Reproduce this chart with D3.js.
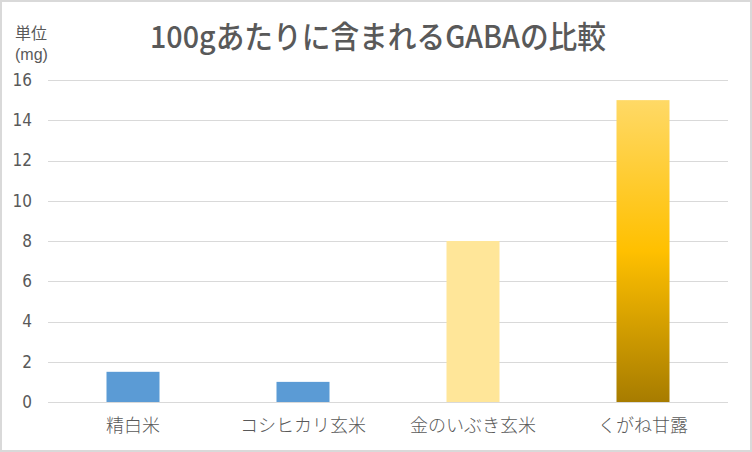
<!DOCTYPE html>
<html><head><meta charset="utf-8">
<script src="https://cdn.jsdelivr.net/npm/d3@7"></script>
<style>
html,body{margin:0;padding:0;background:#fff;}
svg{display:block;}
text{font-family:"Noto Sans CJK JP","Noto Sans",sans-serif;}
</style></head>
<body>
<script>
const categories = ["精白米", "コシヒカリ玄米", "金のいぶき玄米", "くがね甘露"];
const values = [1.5, 1.0, 8, 15];
const yTicks = [0, 2, 4, 6, 8, 10, 12, 14, 16];
const title = "100gあたりに含まれるGABAの比較";
const unitLines = ["単位", "(mg)"];

const W = 752, H = 452;
const svg = d3.select("body").append("svg").attr("width", W).attr("height", H);

// border
svg.append("rect").attr("x", 1).attr("y", 1).attr("width", W - 2).attr("height", H - 2)
  .attr("fill", "#fff").attr("stroke", "#d9d9d9").attr("stroke-width", 2);

const defs = svg.append("defs");
const grad = defs.append("linearGradient").attr("id", "gold")
  .attr("x1", 0).attr("y1", 0).attr("x2", 0).attr("y2", 1);
grad.append("stop").attr("offset", "0%").attr("stop-color", "#FFD966");
grad.append("stop").attr("offset", "50%").attr("stop-color", "#FFC000");
grad.append("stop").attr("offset", "100%").attr("stop-color", "#A77C00");

const colors = ["#5B9BD5", "#5B9BD5", "#FFE699", "url(#gold)"];

const x = d3.scaleBand().domain(categories).range([48, 728]).padding(0);
const y = d3.scaleLinear().domain([0, 16]).range([402, 80]);

// gridlines
svg.append("g").selectAll("line").data(yTicks).join("line")
  .attr("x1", 48).attr("x2", 728)
  .attr("y1", d => Math.round(y(d)) + 0.5).attr("y2", d => Math.round(y(d)) + 0.5)
  .attr("stroke", "#d9d9d9").attr("stroke-width", 1);

// y axis labels
const yAxis = d3.axisLeft(y).tickValues(yTicks).tickSize(0).tickPadding(0);
const gy = svg.append("g").attr("transform", "translate(32,0)").call(yAxis);
gy.select(".domain").remove();
gy.selectAll("text").attr("fill", "#595959").style("font-size", "17px")
  .style("font-family", "'Liberation Sans Narrow','DejaVu Sans Condensed','Noto Sans',sans-serif");

// bars
const bw = 53;
svg.append("g").selectAll("rect").data(values).join("rect")
  .attr("x", (d, i) => x(categories[i]) + x.bandwidth() / 2 - bw / 2)
  .attr("width", bw)
  .attr("y", d => y(d))
  .attr("height", d => y(0) - y(d))
  .attr("fill", (d, i) => colors[i]);

// x axis labels
const xAxis = d3.axisBottom(x).tickSize(0).tickPadding(0);
const gx = svg.append("g").attr("transform", "translate(0,418)").call(xAxis);
gx.select(".domain").remove();
gx.selectAll("text").attr("fill", "#595959").style("font-size", "18px")
  .attr("dy", "0.32em").attr("y", 8).style("font-weight", 300);

// title
svg.append("text").attr("x", 150).attr("y", 48)
  .attr("textLength", 456).attr("lengthAdjust", "spacingAndGlyphs")
  .attr("fill", "#595959").style("font-size", "31px").style("font-weight", 500)
  .text(title);

// unit label
svg.append("text").attr("x", 15).attr("y", 39)
  .attr("fill", "#595959").style("font-size", "16px")
  .text(unitLines[0]);
svg.append("text").attr("x", 15).attr("y", 60)
  .attr("fill", "#595959").style("font-size", "16px")
  .style("font-family", "'Liberation Sans Narrow','Liberation Sans',sans-serif")
  .text(unitLines[1]);
</script>
</body></html>
